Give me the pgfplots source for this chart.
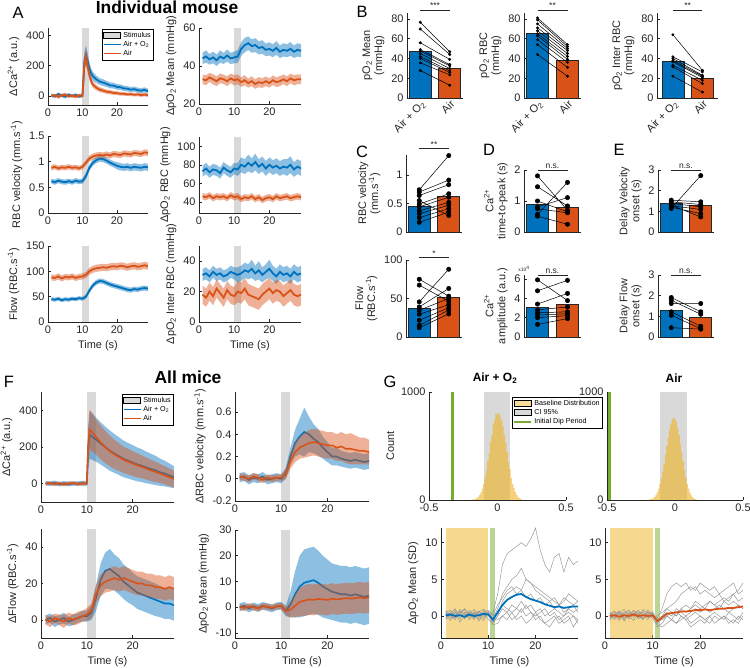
\documentclass[border=0pt]{standalone}
\usepackage{fontspec}
\setmainfont{Liberation Sans}
\usepackage{pgfplots}
\pgfplotsset{compat=1.18}
\usepackage{pgfplotstable}

\definecolor{mblue}{HTML}{0072BD}
\definecolor{morange}{HTML}{D95319}
\definecolor{stim}{HTML}{D9D9D9}
\definecolor{myel}{HTML}{EDB120}
\definecolor{mgreen}{HTML}{77AC30}
\definecolor{axc}{HTML}{262626}

\newcommand{\tk}{\fontsize{11}{12}\selectfont}
\newcommand{\lb}{\fontsize{11}{12}\selectfont}

\pgfplotsset{
  base/.style={scale only axis, anchor=north west, axis lines*=left,
    axis line style={axc, line width=0.6bp, -},
    tick align=inside, major tick length=2.5bp, tick style={axc, line width=0.5bp},
    tick label style={font=\tk, text=axc}, label style={font=\lb, text=axc},
    /pgf/number format/assume math mode=true, /pgf/number format/1000 sep={}},
  ts/.style={base, xmin=0, xmax=29, xtick={0,10,20}},
  bars/.style={base, clip=false, xmin=0.55, xmax=2.45, ymin=0, xtick=\empty,
    bar width=0.75, ylabel style={align=center}},
  leg/.style={legend style={font=\fontsize{7.2}{8}\selectfont, draw=black, line width=0.5bp,
    fill=white, inner sep=1pt, row sep=-1.5pt}, legend cell align=left},
  bb/.style={ybar, bar shift=0pt, fill=mblue, draw=axc, line width=0.6bp},
  bo/.style={ybar, bar shift=0pt, fill=morange, draw=axc, line width=0.6bp},
  pairs/.style={black, line width=0.5bp, mark=*, mark size=1.2bp, unbounded coords=jump, forget plot},
  bigpairs/.style={pairs, mark size=2.2bp},
  blabels/.style={xtick={1,2}, xticklabels={Air + O\textsubscript{2}, Air},
    xticklabel style={rotate=45, anchor=north east, inner sep=1pt}, xtick style={draw=none}},
}

% mean with a shaded band of one standard deviation (stacked: lower edge, thickness, back to zero)
\newcommand{\band}[5]{%
  \addplot[draw=none, stack plots=y, forget plot] table[x=t, y expr=\thisrow{#2}-\thisrow{#3}] {#1};
  \addplot[fill=#4, fill opacity=0.45, draw=none, stack plots=y, forget plot] table[x=t, y expr=2*\thisrow{#3}] {#1} \closedcycle;
  \addplot[draw=none, stack plots=y, forget plot] table[x=t, y expr=-\thisrow{#2}-\thisrow{#3}] {#1};
  \addplot[color=#4, line width=#5, forget plot] table[x=t, y=#2] {#1};
}
\newcommand{\stimband}[2]{\addplot[fill=stim, draw=none, forget plot] coordinates {(10,#1) (10,#2) (12,#2) (12,#1)};}
\newcommand{\sig}[2]{\draw[axc, line width=0.5bp] (axis cs:1,#1) -- (axis cs:2,#1) node[midway, above, inner sep=0.8bp, font=\fontsize{8.5}{9}\selectfont]{#2};}
\newcommand{\stimlegend}{%
  \addlegendimage{area legend, fill=stim, draw=none}\addlegendentry{Stimulus}
  \addlegendimage{color=mblue, line width=1.2bp}\addlegendentry{Air + O\textsubscript{2}}
  \addlegendimage{color=morange, line width=1.2bp}\addlegendentry{Air}
}

% ---------- panel A (individual mouse) ----------
\pgfplotstableread{
t b bs o os
1 5 10 0 12
2 -3 12 5 10
3 12 11 -6 13
4 2 10 4 11
5 -5 12 10 12
6 8 11 -3 10
7 0 10 2 12
8 6 12 -5 11
9 -4 11 4 12
10 3 12 0 11
10.3 120 40 110 35
10.6 240 60 230 50
11 270 65 260 55
11.5 230 55 200 45
12 180 45 140 35
12.5 150 35 100 25
13 130 30 75 20
14 110 25 55 18
15 95 22 42 16
16 88 22 35 15
17 80 20 28 14
18 70 20 25 14
19 68 19 20 13
20 60 19 18 13
21 58 18 15 13
22 50 18 14 12
23 48 18 10 12
24 42 17 12 12
25 45 17 8 12
26 38 17 10 12
27 35 16 6 12
28 40 17 9 12
29 32 16 5 11
}\tAa
\pgfplotstableread{
t b bs o os
1 44 3 33 2.5
2 45 3.2 32.5 2.6
3 43.5 2.8 34 2.4
4 44.5 3.1 33 2.7
5 43 3 32 2.5
6 45 3.3 33.5 2.6
7 44 2.9 33 2.4
8 45.5 3.2 32 2.6
9 44 3 33.5 2.5
10 44.5 3.1 32.5 2.7
11 45 3.4 33 2.6
12 49 3.5 31.5 2.5
13 51 3.8 32.5 2.7
14 52 3.6 31 2.4
15 50.5 3.5 32 2.6
16 51 3.7 30.5 2.5
17 49.5 3.4 31.5 2.7
18 50 3.6 31 2.5
19 48.5 3.3 32 2.6
20 49 3.5 31 2.4
21 48 3.4 32.5 2.6
22 49.5 3.6 31.5 2.5
23 47.5 3.3 32 2.7
24 48.5 3.5 33 2.5
25 48 3.4 32 2.6
26 49 3.6 33.5 2.5
27 47.5 3.3 32.5 2.7
28 48.5 3.5 33 2.6
29 48 3.4 33 2.5
}\tAb
\pgfplotstableread{
t b bs o os
1 0.62 0.05 0.88 0.05
2 0.60 0.05 0.90 0.05
3 0.63 0.05 0.87 0.05
4 0.61 0.05 0.89 0.05
5 0.60 0.05 0.88 0.05
6 0.62 0.05 0.90 0.05
7 0.60 0.05 0.88 0.05
8 0.63 0.05 0.89 0.05
9 0.61 0.05 0.87 0.05
10 0.62 0.05 0.90 0.05
11 0.72 0.06 0.98 0.05
12 0.88 0.06 1.06 0.06
13 0.98 0.06 1.10 0.06
14 1.03 0.06 1.12 0.06
15 1.06 0.06 1.13 0.06
16 1.05 0.06 1.12 0.06
17 1.02 0.06 1.14 0.06
18 0.98 0.06 1.12 0.06
19 0.95 0.06 1.15 0.06
20 0.92 0.07 1.14 0.06
21 0.90 0.07 1.13 0.06
22 0.89 0.07 1.16 0.06
23 0.90 0.07 1.15 0.06
24 0.88 0.07 1.14 0.06
25 0.90 0.07 1.17 0.06
26 0.89 0.07 1.16 0.06
27 0.88 0.07 1.15 0.06
28 0.90 0.07 1.18 0.06
29 0.89 0.07 1.17 0.06
}\tAc
\pgfplotstableread{
t b bs o os
1 73 6 46 3.5
2 76 6 45 3.5
3 72 6 47 3.5
4 75 6 44 3.5
5 74 6 46 3.5
6 71 6 45 3.5
7 77 6 46 3.5
8 74 6 44 3.5
9 72 6 47 3.5
10 76 6 45 3.5
11 75 7 46 3.5
12 80 8 43 3.5
13 78 8 45 3.5
14 82 9 44 3.5
15 79 8 46 3.5
16 83 9 43 3.5
17 78 8 45 3.5
18 81 8 42 3.5
19 76 8 44 3.5
20 80 8 45 3.5
21 77 8 43 3.5
22 79 8 46 3.5
23 76 8 44 3.5
24 78 8 45 3.5
25 77 9 46 3.5
26 80 9 44 3.5
27 75 8 45 3.5
28 78 8 46 3.5
29 76 8 45 3.5
}\tAd
\pgfplotstableread{
t b bs o os
1 45 4 88 6
2 44 4 87 6
3 46 4 90 6
4 43 4 86 6
5 45 4 89 6
6 44 4 88 6
7 46 4 90 6
8 45 4 87 6
9 47 4 89 6
10 46 4 90 6
11 50 4 93 6
12 62 5 100 7
13 72 5 104 7
14 78 5 106 7
15 81 5 107 7
16 80 5 108 7
17 77 5 107 7
18 74 5 109 7
19 72 5 110 7
20 70 5 109 7
21 68 5 111 7
22 66 5 110 7
23 64 5 108 7
24 63 5 110 7
25 65 5 111 7
26 64 5 109 7
27 66 5 110 7
28 67 5 112 7
29 66 5 110 7
}\tAe
\pgfplotstableread{
t b bs o os
1 31 4 18 6
2 32 4 16 6
3 30 4 20 6
4 33 4 17 6
5 31 4 22 6
6 32 4 19 6
7 30 4 16 6
8 31 4 21 6
9 33 4 18 6
10 32 4 17 6
11 31 5 20 7
12 32 5 19 7
13 34 5 22 7
14 33 5 18 7
15 35 6 17 7
16 32 5 16 7
17 34 6 15 7
18 31 5 18 7
19 33 5 20 7
20 35 6 22 7
21 32 5 19 7
22 30 5 21 7
23 33 5 20 7
24 31 5 17 7
25 32 5 19 7
26 30 5 21 7
27 33 5 18 7
28 31 5 17 7
29 32 5 18 7
}\tAf

% ---------- panel F (all mice) ----------
\pgfplotstableread{
t b bs o os
1 2 12 0 10
2 0 12 3 10
3 4 13 -2 11
4 -3 12 2 10
5 2 12 -4 10
6 -2 13 1 11
7 1 12 3 10
8 0 12 -1 10
9 3 13 0 11
10 0 12 2 10
10.3 200 110 210 95
10.6 265 130 295 110
11 260 128 285 105
11.5 250 125 270 100
12 240 120 255 96
13 220 115 225 92
14 200 112 200 88
15 180 110 178 84
16 165 106 160 80
17 150 103 145 76
18 135 100 130 72
19 125 97 120 70
20 115 95 110 68
21 105 92 100 66
22 98 90 92 62
23 88 86 82 60
24 80 83 72 58
25 72 80 64 55
26 62 74 55 52
27 55 70 45 50
28 45 65 35 48
29 35 60 25 45
}\tFa
\pgfplotstableread{
t b bs o os
1 0.01 0.04 0.02 0.03
2 0.02 0.04 0.01 0.03
3 -0.01 0.04 0 0.03
4 0.01 0.04 0.02 0.03
5 0 0.04 0.01 0.03
6 0.02 0.04 -0.01 0.03
7 -0.01 0.04 0.01 0.03
8 0 0.04 0 0.03
9 0.01 0.04 0.01 0.03
10 0 0.04 0.01 0.03
11 0.05 0.05 0.04 0.04
12 0.2 0.08 0.16 0.07
13 0.32 0.12 0.24 0.09
14 0.38 0.16 0.28 0.1
15 0.42 0.22 0.3 0.11
16 0.4 0.16 0.32 0.12
17 0.36 0.13 0.33 0.12
18 0.33 0.12 0.32 0.12
19 0.28 0.1 0.31 0.12
20 0.24 0.09 0.3 0.12
21 0.2 0.08 0.3 0.12
22 0.2 0.08 0.28 0.12
23 0.18 0.07 0.29 0.13
24 0.17 0.07 0.27 0.13
25 0.16 0.07 0.27 0.14
26 0.17 0.07 0.26 0.13
27 0.16 0.07 0.25 0.12
28 0.15 0.07 0.25 0.12
29 0.16 0.07 0.24 0.11
}\tFb
\pgfplotstableread{
t b bs o os
1 0 2.5 0 2.5
2 1 2.5 -1 3
3 -1 3 1 2.5
4 0 2.5 0 3
5 1 3 -1 3.5
6 -1 2.5 1 3
7 0 3 0 3
8 1 2.5 1 3.5
9 2 3 2 3
10 2 3 3 3.5
11 4 4 5 4
12 12 7 14 5
13 22 9 19 6
14 27 10 21 6
15 28 11 22 6.5
16 26 10 23 6.5
17 24 10 22 6.5
18 21 9.5 23 6.5
19 19 9.5 22 6.5
20 17 9 21 6.5
21 15 9 20 6.5
22 14 9 20 6.5
23 13 9 19 6.5
24 12 9 19 6.5
25 11 9 18 6.5
26 10 8.5 18 6.5
27 9 8.5 17 6.5
28 9 8.5 18 6.5
29 8 8.5 17 6.5
}\tFc
\pgfplotstableread{
t b bs o os
1 0 1.5 0 1.2
2 0.5 1.5 -0.3 1.2
3 -0.5 1.5 0.3 1.2
4 0.3 1.5 0 1.2
5 -0.3 1.5 -0.5 1.2
6 0.5 1.5 0.3 1.2
7 0 1.5 0.2 1.2
8 -0.5 1.5 -0.2 1.2
9 0.3 1.5 0.3 1.2
10 0.5 1.5 0.5 1.2
11 -1.5 2 -1.5 1.5
12 1 5 -1 3
13 5 9 0.5 4.5
14 8 12 2 5.5
15 9.5 13 2.5 6
16 10 13 3 6
17 10.5 13 2.8 6
18 9.5 12.5 3.2 6
19 8 12 3 6
20 7 11.5 2.8 6
21 6 11 3.3 6
22 5.5 11 3 6
23 5 11 3.2 6
24 5 11 3.5 6
25 4.5 11 3.3 6
26 5 11 3.5 6
27 4.5 11 3.8 6
28 4 11 3.5 6
29 4.5 11 3.8 6
}\tFd

% ---------- panel G (pO2 in SD units, mean and single mice) ----------
\pgfplotstableread{
t m g1 g2 g3 g4 g5 g6 g7 g8
1 0.1 0.5 0.3 -0.5 0.8 -0.3 0.2 0.6 -0.2
2 0.2 -0.3 0.8 0.2 0 0.5 -0.6 0.1 0.4
3 0 0.8 -0.2 0.6 -0.5 0.1 0.4 -0.3 1
4 0.1 0 0.5 -0.8 0.3 0.7 0.1 0.9 -0.4
5 -0.1 0.4 1 0 0.9 -0.4 -0.3 0.2 0.5
6 0.2 -0.5 0.2 0.5 -0.2 0.3 0.8 0 0.2
7 0 0.3 -0.5 0.3 0.6 0.9 -0.1 0.5 -0.3
8 0.1 0.6 0.6 -0.4 0 0.2 0.5 -0.7 0.7
9 0.3 0 0.9 0.8 -0.6 -0.2 0.3 0.4 0.1
10 0.2 0.2 0.4 0.1 0.5 0.6 -0.4 0.8 0.3
11 -0.5 0.5 -0.3 -1 0.2 -0.8 -1.2 0 -0.6
12 0.5 3 1 0 1.5 0 -1 0.5 -0.5
13 1.5 7 3 2 2.5 1 0 1.5 0
14 2.2 8.5 4 3 3.5 0.5 0.5 1 -0.5
15 2.6 9 5 3.5 4 1.5 -0.5 0.5 0.5
16 2.9 9.5 5.5 4 3 1 0 1 -0.5
17 3 10 6.5 3.5 3.5 2 1 0.5 0
18 2.6 9.5 5 5 2.5 1 0 1.5 -1
19 2.3 10.5 4.5 4.5 3 1.5 0.5 0.5 -0.5
20 2.1 12 4 3.5 2 0.5 -0.5 0 0.5
21 1.9 9 3.5 3 2.5 1 0 0.5 -0.5
22 1.6 7 3 2.5 1.5 0 -1 1 -1
23 1.4 6 2.5 2 2 0.5 -0.5 0 -1.5
24 1.2 8 2 2.5 1 1 0 0.5 -0.5
25 1.3 8.5 1.5 1.5 1.5 0.5 -1 -0.5 0
26 1.1 6 2.5 2 0.5 0 -0.5 0 -1
27 1.2 8 2 3 1 1 0 0.5 -0.5
28 1.3 7 1.5 2.5 1.5 0.5 -1.5 0 0
29 1.3 7.5 2 2 0.5 1 -0.5 -0.5 -1
}\tGa
\pgfplotstableread{
t m g1 g2 g3 g4 g5 g6 g7 g8
1 0 0.3 -0.4 0.5 0 -0.6 0.4 0.2 -0.3
2 0.1 -0.5 0.2 0 0.6 0.3 -0.2 0.7 0.1
3 -0.1 0.6 0.7 -0.6 0.2 -0.1 0.3 -0.4 0.5
4 0.1 0.1 -0.3 0.4 -0.5 0.5 0.9 0 -0.7
5 0 -0.2 0.4 0.8 0.3 -0.4 0 0.6 0.2
6 0.2 0.8 0 -0.2 0.7 0.2 -0.6 0.3 0.4
7 0 0.3 0.6 0.3 -0.4 0.8 0.2 -0.2 0
8 0.1 -0.4 0.2 0.6 0.1 -0.3 0.5 0.9 -0.5
9 0 0.5 -0.5 0 0.5 0.2 -0.2 0.4 0.8
10 0.1 0.2 0.4 -0.3 0.2 0.6 0 -0.1 0.3
11 -0.7 -0.3 -1 -1.5 -0.5 -0.8 -1.2 0 -0.6
12 -0.2 1 0 -1 0 -0.5 -1.5 0.5 -0.5
13 0.3 3 1 0 0.5 0 -1 1 0
14 0.4 4 1.5 0.5 0 -0.5 -0.5 0.5 -0.5
15 0.5 4.5 2 0 1 0.5 -1 0 -1
16 0.6 4 3 1 0.5 0 -0.5 1 0
17 0.6 4.5 3.5 0.5 0 -0.5 0 1.5 -0.5
18 0.7 3.5 4 1 0.5 0 -1 1 -1.5
19 0.8 4 3.5 1.5 1 0.5 -0.5 2 -1
20 0.8 3 4.5 1 0.5 0 0 1.5 -0.5
21 0.9 3.5 4 1.5 1 -0.5 -0.5 1 -1
22 0.8 3 3.5 2 0.5 0 -1 2 0
23 0.9 2.5 4 1.5 1 0.5 0 1.5 -1
24 1 3 3 2 1.5 0 -0.5 1 -0.5
25 1 2 3.5 2.5 1 -0.5 0 2 0
26 1.1 2.5 4 2 0.5 0.5 -0.5 1.5 -1
27 1.1 3 4.5 3 1 0 -1 2 -0.5
28 1.2 2 3 3.5 1.5 -0.5 0 1.5 -1
29 1.3 2.5 3.5 4.5 1 0.5 -0.5 1 0
}\tGb

\begin{document}
\begin{tikzpicture}
\path[use as bounding box] (0,0) rectangle (750bp,668bp);

% titles and panel letters
\node[font=\bfseries\fontsize{17.5}{18}\selectfont] at (167bp,661bp) {Individual mouse};
\node[font=\bfseries\fontsize{17.5}{18}\selectfont] at (188bp,291bp) {All mice};
\node[font=\bfseries\fontsize{12}{13}\selectfont] at (495bp,290bp) {Air + O\textsubscript{2}};
\node[font=\bfseries\fontsize{12}{13}\selectfont] at (674bp,290bp) {Air};
\foreach \l/\x/\y in {A/18/655, B/362/656, C/362/516, D/489/518, E/619/518, F/9/286, G/390/286}
  \node[font=\fontsize{16.5}{17}\selectfont] at (\x bp,\y bp) {\l};

% ===== A =====
\begin{axis}[ts, leg, at={(48bp,640bp)}, width=100bp, height=77bp,
  ymin=-60, ymax=450, ytick={0,200,400}, ylabel={ΔCa\textsuperscript{2+} (a.u.)},
  legend style={at={(1.06,0.99)}, anchor=north east}]
\stimband{-60}{450}
\band{\tAa}{b}{bs}{mblue}{1.8bp}
\band{\tAa}{o}{os}{morange}{1.8bp}
\stimlegend
\end{axis}

\begin{axis}[ts, at={(199bp,640bp)}, width=102bp, height=76bp,
  ymin=20, ymax=60, ytick={20,40,60}, ylabel={ΔpO\textsubscript{2} Mean (mmHg)}]
\stimband{20}{60}
\band{\tAb}{b}{bs}{mblue}{1.8bp}
\band{\tAb}{o}{os}{morange}{1.8bp}
\end{axis}

\begin{axis}[ts, at={(48bp,532bp)}, width=100bp, height=77bp,
  ymin=0, ymax=1.5, ytick={0,0.5,1,1.5}, ylabel={RBC velocity (mm.s\textsuperscript{-1})}]
\stimband{0}{1.5}
\band{\tAc}{b}{bs}{mblue}{1.8bp}
\band{\tAc}{o}{os}{morange}{1.8bp}
\end{axis}

\begin{axis}[ts, at={(199bp,531bp)}, width=102bp, height=76bp,
  ymin=28, ymax=110, ytick={40,60,80,100}, ylabel={ΔpO\textsubscript{2} RBC (mmHg)}]
\stimband{28}{110}
\band{\tAd}{b}{bs}{mblue}{1.8bp}
\band{\tAd}{o}{os}{morange}{1.8bp}
\end{axis}

\begin{axis}[ts, at={(48bp,422bp)}, width=100bp, height=76bp,
  ymin=0, ymax=150, ytick={0,50,100,150}, ylabel={Flow (RBC.s\textsuperscript{-1})}, xlabel={Time (s)}]
\stimband{0}{150}
\band{\tAe}{b}{bs}{mblue}{1.8bp}
\band{\tAe}{o}{os}{morange}{1.8bp}
\end{axis}

\begin{axis}[ts, at={(199bp,422bp)}, width=102bp, height=76bp,
  ymin=0, ymax=50, ytick={0,20,40}, ylabel={ΔpO\textsubscript{2} Inter RBC (mmHg)}, xlabel={Time (s)}]
\stimband{0}{50}
\band{\tAf}{b}{bs}{mblue}{1.8bp}
\band{\tAf}{o}{os}{morange}{1.8bp}
\end{axis}

% ===== B =====
\begin{axis}[bars, blabels, at={(407bp,655bp)}, width=56bp, height=85bp,
  ymax=86, ytick={0,20,40,60,80}, ylabel={pO\textsubscript{2} Mean\\(mmHg)}]
\addplot[bb] coordinates {(1,47.5)};
\addplot[bo] coordinates {(2,30)};
\addplot[pairs] coordinates {(1,76.6)(2,46.8) (1.5,nan) (1,69.8)(2,44) (1.5,nan) (1,55.9)(2,39) (1.5,nan)
  (1,49)(2,33.9) (1.5,nan) (1,47.5)(2,32.5) (1.5,nan) (1,45)(2,29.8) (1.5,nan) (1,42)(2,27.5) (1.5,nan)
  (1,40)(2,25.8) (1.5,nan) (1,35.6)(2,23.4) (1.5,nan) (1,27.8)(2,12.9)};
\sig{89}{***}
\end{axis}

\begin{axis}[bars, blabels, at={(524bp,655bp)}, width=57bp, height=85bp,
  ymax=86, ytick={0,20,40,60,80}, ylabel={pO\textsubscript{2} RBC\\(mmHg)}]
\addplot[bb] coordinates {(1,65.4)};
\addplot[bo] coordinates {(2,38.6)};
\addplot[pairs] coordinates {(1,81)(2,54) (1.5,nan) (1,79)(2,52) (1.5,nan) (1,75)(2,50) (1.5,nan)
  (1,71)(2,48) (1.5,nan) (1,68)(2,45) (1.5,nan) (1,65)(2,42) (1.5,nan) (1,63)(2,39) (1.5,nan)
  (1,59)(2,36) (1.5,nan) (1,54)(2,31) (1.5,nan) (1,44)(2,22)};
\sig{89}{**}
\end{axis}

\begin{axis}[bars, blabels, at={(657bp,655bp)}, width=61bp, height=85bp, xmin=0.46, xmax=2.53,
  ymax=86, ytick={0,20,40,60,80}, ylabel={pO\textsubscript{2} Inter RBC\\(mmHg)}]
\addplot[bb] coordinates {(1,37.3)};
\addplot[bo] coordinates {(2,19.7)};
\addplot[pairs] coordinates {(1,64)(2,28) (1.5,nan) (1,41.7)(2,26.4) (1.5,nan) (1,40)(2,23) (1.5,nan)
  (1,38)(2,22) (1.5,nan) (1,36.6)(2,20.7) (1.5,nan) (1,33)(2,18) (1.5,nan) (1,31.5)(2,14.6) (1.5,nan)
  (1,22)(2,6)};
\sig{89}{**}
\end{axis}

% ===== C =====
\begin{axis}[bars, at={(406bp,513bp)}, width=56bp, height=77bp,
  ymax=1.35, ytick={0,0.5,1}, ylabel={RBC velocity\\(mm.s\textsuperscript{-1})}]
\addplot[bb] coordinates {(1,0.45)};
\addplot[bo] coordinates {(2,0.62)};
\addplot[bigpairs] coordinates {(1,0.74)(2,1.34) (1.5,nan) (1,0.70)(2,0.91) (1.5,nan) (1,0.64)(2,0.83) (1.5,nan)
  (1,0.49)(2,0.67) (1.5,nan) (1,0.44)(2,0.61) (1.5,nan) (1,0.37)(2,0.52) (1.5,nan) (1,0.32)(2,0.47) (1.5,nan)
  (1,0.25)(2,0.41) (1.5,nan) (1,0.17)(2,0.35) (1.5,nan) (1,0.55)(2,0.29)};
\sig{1.47}{**}
\end{axis}

\begin{axis}[bars, at={(406bp,408bp)}, width=56bp, height=77bp,
  ymax=100, ytick={0,50,100}, ylabel={Flow\\(RBC.s\textsuperscript{-1})}]
\addplot[bb] coordinates {(1,37.8)};
\addplot[bo] coordinates {(2,52)};
\addplot[bigpairs] coordinates {(1,75)(2,53) (1.5,nan) (1,67.4)(2,46.5) (1.5,nan) (1,45.6)(2,88) (1.5,nan)
  (1,39)(2,63) (1.5,nan) (1,34.8)(2,50) (1.5,nan) (1,29.6)(2,42) (1.5,nan) (1,21.7)(2,38) (1.5,nan)
  (1,15.2)(2,35) (1.5,nan) (1,12)(2,30)};
\sig{103}{*}
\end{axis}

% ===== D =====
\begin{axis}[bars, at={(524bp,498bp)}, width=57bp, height=62bp,
  ymax=2, ytick={0,1,2}, ylabel={Ca\textsuperscript{2+}\\time-to-peak (s)}]
\addplot[bb] coordinates {(1,0.88)};
\addplot[bo] coordinates {(2,0.8)};
\addplot[bigpairs] coordinates {(1,1.81)(2,0.7) (1.5,nan) (1,1.46)(2,0.84) (1.5,nan) (1,1.0)(2,0.65) (1.5,nan)
  (1,0.81)(2,1.11) (1.5,nan) (1,0.57)(2,1.6) (1.5,nan) (1,0.51)(2,0.25) (1.5,nan) (1,0.75)(2,0.62)};
\sig{2}{n.s.}
\end{axis}

\begin{axis}[bars, at={(524bp,393bp)}, width=57bp, height=62bp,
  ymax=6.4, ytick={0,2,4,6}, ylabel={Ca\textsuperscript{2+}\\amplitude (a.u.)}]
\addplot[bb] coordinates {(1,3.1)};
\addplot[bo] coordinates {(2,3.35)};
\addplot[bigpairs] coordinates {(1,5.9)(2,3.76) (1.5,nan) (1,4.77)(2,5.85) (1.5,nan) (1,3.4)(2,4.5) (1.5,nan)
  (1,2.8)(2,3.1) (1.5,nan) (1,2.5)(2,2.6) (1.5,nan) (1,2.26)(2,2.4) (1.5,nan) (1,2.0)(2,2.2) (1.5,nan)
  (1,1.3)(2,1.9)};
\sig{6.4}{n.s.}
\node[anchor=south, font=\fontsize{5}{5}\selectfont, text=axc] at (rel axis cs:0,1) {x10\textsuperscript{4}};
\end{axis}

% ===== E =====
\begin{axis}[bars, at={(658bp,498bp)}, width=56bp, height=62bp,
  ymax=3, ytick={0,1,2,3}, ylabel={Delay Velocity\\onset (s)}]
\addplot[bb] coordinates {(1,1.38)};
\addplot[bo] coordinates {(2,1.31)};
\addplot[bigpairs] coordinates {(1,1.14)(2,2.73) (1.5,nan) (1,1.54)(2,1.46) (1.5,nan) (1,1.46)(2,1.33) (1.5,nan)
  (1,1.38)(2,1.22) (1.5,nan) (1,1.27)(2,1.09) (1.5,nan) (1,1.2)(2,0.89) (1.5,nan) (1,1.3)(2,0.73)};
\sig{3}{n.s.}
\end{axis}

\begin{axis}[bars, at={(658bp,393bp)}, width=56bp, height=62bp,
  ymax=3, ytick={0,1,2,3}, ylabel={Delay Flow\\onset (s)}]
\addplot[bb] coordinates {(1,1.28)};
\addplot[bo] coordinates {(2,0.94)};
\addplot[bigpairs] coordinates {(1,1.91)(2,1.22) (1.5,nan) (1,1.78)(2,1.1) (1.5,nan) (1,1.62)(2,1.62) (1.5,nan)
  (1,1.22)(2,0.52) (1.5,nan) (1,1.05)(2,0.4) (1.5,nan) (1,0.45)(2,0.38)};
\sig{3}{n.s.}
\end{axis}

% ===== F =====
\begin{axis}[ts, leg, at={(41bp,276bp)}, width=133bp, height=110bp,
  ymin=-100, ymax=500, ytick={0,200,400}, ylabel={ΔCa\textsuperscript{2+} (a.u.)},
  legend style={at={(1,0.985)}, anchor=north east}]
\stimband{-100}{500}
\band{\tFa}{b}{bs}{mblue}{1.6bp}
\band{\tFa}{o}{os}{morange}{1.6bp}
\stimlegend
\end{axis}

\begin{axis}[ts, at={(235bp,276bp)}, width=134bp, height=109bp,
  ymin=-0.2, ymax=0.78, ytick={-0.2,0,0.2,0.4,0.6}, ylabel={ΔRBC velocity (mm.s\textsuperscript{-1})}]
\stimband{-0.2}{0.78}
\band{\tFb}{b}{bs}{mblue}{1.6bp}
\band{\tFb}{o}{os}{morange}{1.6bp}
\end{axis}

\begin{axis}[ts, at={(41bp,139bp)}, width=133bp, height=109bp,
  ymin=-10, ymax=50, ytick={0,20,40}, ylabel={ΔFlow (RBC.s\textsuperscript{-1})}, xlabel={Time (s)}]
\stimband{-10}{50}
\band{\tFc}{b}{bs}{mblue}{1.6bp}
\band{\tFc}{o}{os}{morange}{1.6bp}
\end{axis}

\begin{axis}[ts, at={(235bp,138bp)}, width=134bp, height=108bp,
  ymin=-12, ymax=30, ytick={-10,0,10,20,30}, ylabel={ΔpO\textsubscript{2} Mean (mmHg)}, xlabel={Time (s)}]
\stimband{-12}{30}
\band{\tFd}{b}{bs}{mblue}{1.6bp}
\band{\tFd}{o}{os}{morange}{1.6bp}
\end{axis}

% ===== G histograms =====
\begin{axis}[base, leg, at={(429bp,276bp)}, width=137bp, height=108bp,
  xmin=-0.5, xmax=0.5, xtick={-0.5,0,0.5}, ymin=0, ymax=1000, ytick={0,1000}, ylabel={Count},
  legend style={at={(1.27,0.955)}, anchor=north east}]
\addplot[fill=stim, draw=none, forget plot] coordinates {(-0.1,0) (-0.1,1000) (0.09,1000) (0.09,0)};
\addplot[ybar interval, fill=myel, fill opacity=0.6, draw=none, forget plot] coordinates {
  (-0.205,1) (-0.195,2) (-0.185,4) (-0.175,6) (-0.165,10) (-0.155,17) (-0.145,28) (-0.135,45)
  (-0.125,70) (-0.115,105) (-0.105,150) (-0.095,215) (-0.085,270) (-0.075,360) (-0.065,430)
  (-0.055,540) (-0.045,600) (-0.035,700) (-0.025,740) (-0.015,800) (-0.005,790) (0.005,805)
  (0.015,770) (0.025,735) (0.035,680) (0.045,600) (0.055,530) (0.065,445) (0.075,350) (0.085,285)
  (0.095,205) (0.105,150) (0.115,110) (0.125,72) (0.135,48) (0.145,30) (0.155,18) (0.165,10) (0.175,0)};
\addplot[mgreen, line width=2.5bp, forget plot] coordinates {(-0.33,0) (-0.33,1000)};
\addlegendimage{area legend, fill=myel, fill opacity=0.45, draw=none}\addlegendentry{Baseline Distribution}
\addlegendimage{area legend, fill=stim, draw=none}\addlegendentry{CI 95\%}
\addlegendimage{color=mgreen, line width=2bp}\addlegendentry{Initial Dip Period}
\end{axis}

\begin{axis}[base, at={(607bp,276bp)}, width=136bp, height=108bp,
  xmin=-0.5, xmax=0.5, xtick={-0.5,0,0.5}, ymin=0, ymax=1000, ytick={0,1000}]
\addplot[fill=stim, draw=none, forget plot] coordinates {(-0.11,0) (-0.11,1000) (0.09,1000) (0.09,0)};
\addplot[ybar interval, fill=myel, fill opacity=0.6, draw=none, forget plot] coordinates {
  (-0.215,1) (-0.205,2) (-0.195,4) (-0.185,7) (-0.175,11) (-0.165,18) (-0.155,30) (-0.145,46)
  (-0.135,70) (-0.125,104) (-0.115,150) (-0.105,200) (-0.095,265) (-0.085,335) (-0.075,420)
  (-0.065,500) (-0.055,580) (-0.045,650) (-0.035,700) (-0.025,745) (-0.015,760) (-0.005,750)
  (0.005,720) (0.015,665) (0.025,600) (0.035,520) (0.045,440) (0.055,360) (0.065,280) (0.075,210)
  (0.085,150) (0.095,105) (0.105,68) (0.115,42) (0.125,25) (0.135,14) (0.145,7) (0.155,3) (0.165,0)};
\addplot[mgreen, line width=2.5bp, forget plot] coordinates {(-0.48,0) (-0.48,1000)};
\end{axis}

% ===== G time courses =====
\begin{axis}[ts, at={(441bp,140bp)}, width=137bp, height=110bp,
  ymin=-3, ymax=12, ytick={0,5,10}, ylabel={ΔpO\textsubscript{2} Mean (SD)}, xlabel={Time (s)}]
\addplot[fill=myel, fill opacity=0.5, draw=none, forget plot] coordinates {(1,-3) (1,12) (10,12) (10,-3)};
\addplot[fill=mgreen, fill opacity=0.5, draw=none, forget plot] coordinates {(10.4,-3) (10.4,12) (11.5,12) (11.5,-3)};
\pgfplotsinvokeforeach{g1,g2,g3,g4,g5,g6,g7,g8}{\addplot[black!40, line width=0.5bp, forget plot] table[x=t, y=#1] {\tGa};}
\addplot[color=mblue, line width=1.8bp, forget plot] table[x=t, y=m] {\tGa};
\end{axis}

\begin{axis}[ts, at={(605bp,140bp)}, width=138bp, height=110bp,
  ymin=-3, ymax=12, ytick={0,5,10}, xlabel={Time (s)}]
\addplot[fill=myel, fill opacity=0.5, draw=none, forget plot] coordinates {(1,-3) (1,12) (10,12) (10,-3)};
\addplot[fill=mgreen, fill opacity=0.5, draw=none, forget plot] coordinates {(10.6,-3) (10.6,12) (11.5,12) (11.5,-3)};
\pgfplotsinvokeforeach{g1,g2,g3,g4,g5,g6,g7,g8}{\addplot[black!40, line width=0.5bp, forget plot] table[x=t, y=#1] {\tGb};}
\addplot[color=morange, line width=1.8bp, forget plot] table[x=t, y=m] {\tGb};
\end{axis}
\end{tikzpicture}
\end{document}
